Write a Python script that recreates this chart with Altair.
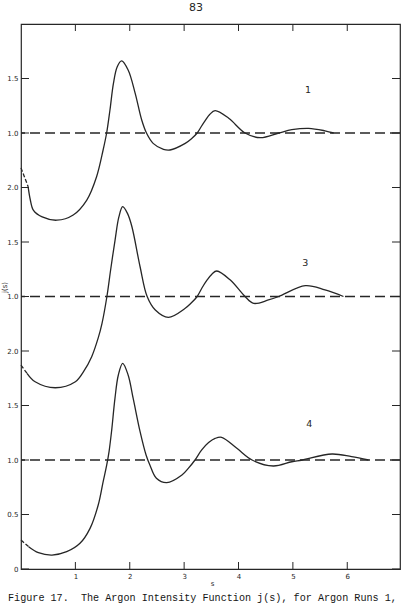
import altair as alt
import pandas as pd

# ---- data ----
s_run1 = [0.0, 0.13, 0.17, 0.23, 0.39, 0.66, 0.96, 1.21, 1.39, 1.51, 1.575, 1.636, 1.70, 1.77, 1.85,
          1.97, 2.10, 2.22, 2.31, 2.43, 2.62, 2.74, 3.02, 3.13, 3.24, 3.31, 3.39, 3.47, 3.57, 3.82, 4.12,
          4.40, 4.74, 4.98, 5.29, 5.59, 5.75]
j_run1 = [0.68, 0.51, 0.39, 0.29, 0.23, 0.20, 0.248, 0.385, 0.599, 0.844, 1.00, 1.211, 1.456, 1.608, 1.661,
          1.578, 1.364, 1.119, 0.997, 0.905, 0.85, 0.844, 0.905, 0.945, 1.00, 1.055, 1.115, 1.17, 1.205,
          1.135, 1.00, 0.957, 1.00, 1.03, 1.043, 1.02, 1.00]

s_run3 = [0.0, 0.11, 0.26, 0.63, 1.00, 1.15, 1.30, 1.42, 1.49, 1.58, 1.65, 1.73, 1.80, 1.87, 1.96, 2.04,
          2.19, 2.32, 2.47, 2.71, 3.02, 3.13, 3.24, 3.33, 3.42, 3.51, 3.60, 3.85, 4.12, 4.28, 4.55, 4.74,
          5.23, 5.59, 5.93]
j_run3 = [0.37, 0.295, 0.218, 0.163, 0.218, 0.31, 0.448, 0.62, 0.754, 1.00, 1.25, 1.518, 1.73, 1.824, 1.76,
          1.64, 1.273, 1.00, 0.876, 0.809, 0.892, 0.94, 1.00, 1.08, 1.15, 1.205, 1.234, 1.151, 1.00, 0.937,
          0.968, 1.00, 1.099, 1.06, 1.00]

s_run4 = [0.0, 0.14, 0.32, 0.57, 0.84, 1.085, 1.27, 1.42, 1.51, 1.575, 1.62, 1.667, 1.728, 1.79, 1.87,
          1.97, 2.065, 2.19, 2.30, 2.37, 2.49, 2.68, 2.96, 3.08, 3.20, 3.32, 3.45, 3.57, 3.69, 3.97, 4.25,
          4.64, 4.98, 5.17, 5.72, 6.08, 6.39]
j_run4 = [0.266, 0.205, 0.150, 0.128, 0.159, 0.236, 0.373, 0.587, 0.80, 0.95, 1.08, 1.27, 1.566, 1.78,
          1.887, 1.78, 1.56, 1.26, 1.046, 0.954, 0.832, 0.792, 0.862, 0.925, 1.00, 1.09, 1.16, 1.198,
          1.208, 1.107, 1.00, 0.945, 0.984, 1.00, 1.055, 1.03, 1.00]

run_names = ["1", "3", "4"]
run_offsets = [3.0, 1.5, 0.0]

y_tick_values = [0, 0.5, 1.0, 1.5, 2.0, 2.5, 3.0, 3.5, 4.0, 4.5]
y_tick_labels = ["0", "0.5", "1.0", "1.5", "2.0", "1.0", "1.5", "2.0", "1.0", "1.5"]
x_tick_values = [1, 2, 3, 4, 5, 6]

label_text = ["1", "3", "4"]
label_s = [5.28, 5.23, 5.30]
label_y = [4.39, 2.81, 1.33]

page_number = "83"
caption = "Figure 17.\u00a0 The Argon Intensity Function j(s), for Argon Runs 1,"

# ---- build tables ----
rows = []
for name, off, ss, jj in zip(run_names, run_offsets, [s_run1, s_run3, s_run4], [j_run1, j_run3, j_run4]):
    for i, (s, j) in enumerate(zip(ss, jj)):
        if i >= 1:
            rows.append({"s": s, "j": j, "run": name, "offset": off, "seg": "main"})
        if i <= 1:
            rows.append({"s": s, "j": j, "run": name, "offset": off, "seg": "start"})
curves = pd.DataFrame(rows)
refs = pd.DataFrame({"run": run_names, "y": [1.0 + o for o in run_offsets]})
yt = pd.DataFrame({"v": y_tick_values})
xt = pd.DataFrame({"v": x_tick_values})
labels = pd.DataFrame({"t": label_text, "s": label_s, "y": label_y})

W, H = 379, 545
ink = "#262626"
xs = alt.Scale(domain=[0, 6.97], nice=False, zero=False)
ys = alt.Scale(domain=[0, 5.0], nice=False, zero=False)

label_expr = "[" + ",".join("'%s'" % l for l in y_tick_labels) + "][round(datum.value*2)]"

x_axis = alt.Axis(
    values=x_tick_values, format="d", ticks=False, domain=False, grid=False,
    labelFontSize=7, labelPadding=3, labelColor=ink, labelFont="DejaVu Sans",
    title="s", titleFontSize=7, titleFontWeight="normal", titleColor=ink,
    titleFont="DejaVu Sans", titleX=191, titleY=14, titleBaseline="middle")
y_axis = alt.Axis(
    values=y_tick_values, labelExpr=label_expr, ticks=False, domain=False, grid=False,
    labelFontSize=7, labelPadding=3, labelColor=ink, labelFont="DejaVu Sans",
    title="j(s)", titleFontSize=7, titleFontWeight="normal", titleColor=ink,
    titleFont="DejaVu Sans", titleX=-17, titleY=263, titleAlign="center",
    titleBaseline="middle")


def X(field):
    return alt.X(field, scale=xs, axis=x_axis)


def Y(field):
    return alt.Y(field, scale=ys, axis=y_axis)


base = alt.Chart(curves).transform_calculate(y="datum.j + datum.offset")

main = base.transform_filter("datum.seg == 'main'").mark_line(
    color=ink, strokeWidth=1.3, interpolate="catmull-rom"
).encode(x=X("s:Q"), y=Y("y:Q"), detail="run:N", order="s:Q")

start = base.transform_filter("datum.seg == 'start'").mark_line(
    color=ink, strokeWidth=1.3, strokeDash=[4, 2]
).encode(x=X("s:Q"), y=Y("y:Q"), detail="run:N", order="s:Q")

ref_lines = alt.Chart(refs).mark_rule(color=ink, strokeWidth=1.3, strokeDash=[10, 5]).encode(
    y=Y("y:Q")
)

tick_style = dict(color=ink, strokeWidth=1)
left_ticks = alt.Chart(yt).mark_rule(**tick_style).encode(
    y=Y("v:Q"), x=alt.value(0), x2=alt.value(8))
right_ticks = alt.Chart(yt).mark_rule(**tick_style).encode(
    y=Y("v:Q"), x=alt.value(W - 8), x2=alt.value(W))
bottom_ticks = alt.Chart(xt).mark_rule(**tick_style).encode(
    x=X("v:Q"), y=alt.value(H - 7), y2=alt.value(H))
top_ticks = alt.Chart(xt).mark_rule(**tick_style).encode(
    x=X("v:Q"), y=alt.value(0), y2=alt.value(7))

run_labels = alt.Chart(labels).mark_text(
    fontSize=9.5, color=ink, font="DejaVu Sans"
).encode(x=X("s:Q"), y=Y("y:Q"), text="t:N")

page = alt.Chart(pd.DataFrame({"t": [page_number]})).mark_text(
    fontSize=11, color=ink, font="DejaVu Sans", baseline="middle"
).encode(x=alt.value(175), y=alt.value(-16), text="t:N")

cap = alt.Chart(pd.DataFrame({"t": [caption]})).mark_text(
    fontSize=10.15, color="#151515", font="Liberation Mono", align="left", baseline="alphabetic"
).encode(x=alt.value(-13), y=alt.value(577), text="t:N")

chart = alt.layer(
    ref_lines, main, start, left_ticks, right_ticks, bottom_ticks, top_ticks, run_labels, page, cap
).properties(
    width=W, height=H,
    autosize=alt.AutoSizeParams(type="none"),
    padding={"left": 21, "top": 24, "right": 6, "bottom": 38},
    background="white",
).configure_view(stroke=ink, strokeWidth=1.2)

chart.save("out.html", embed_options={"renderer": "svg", "actions": False})
